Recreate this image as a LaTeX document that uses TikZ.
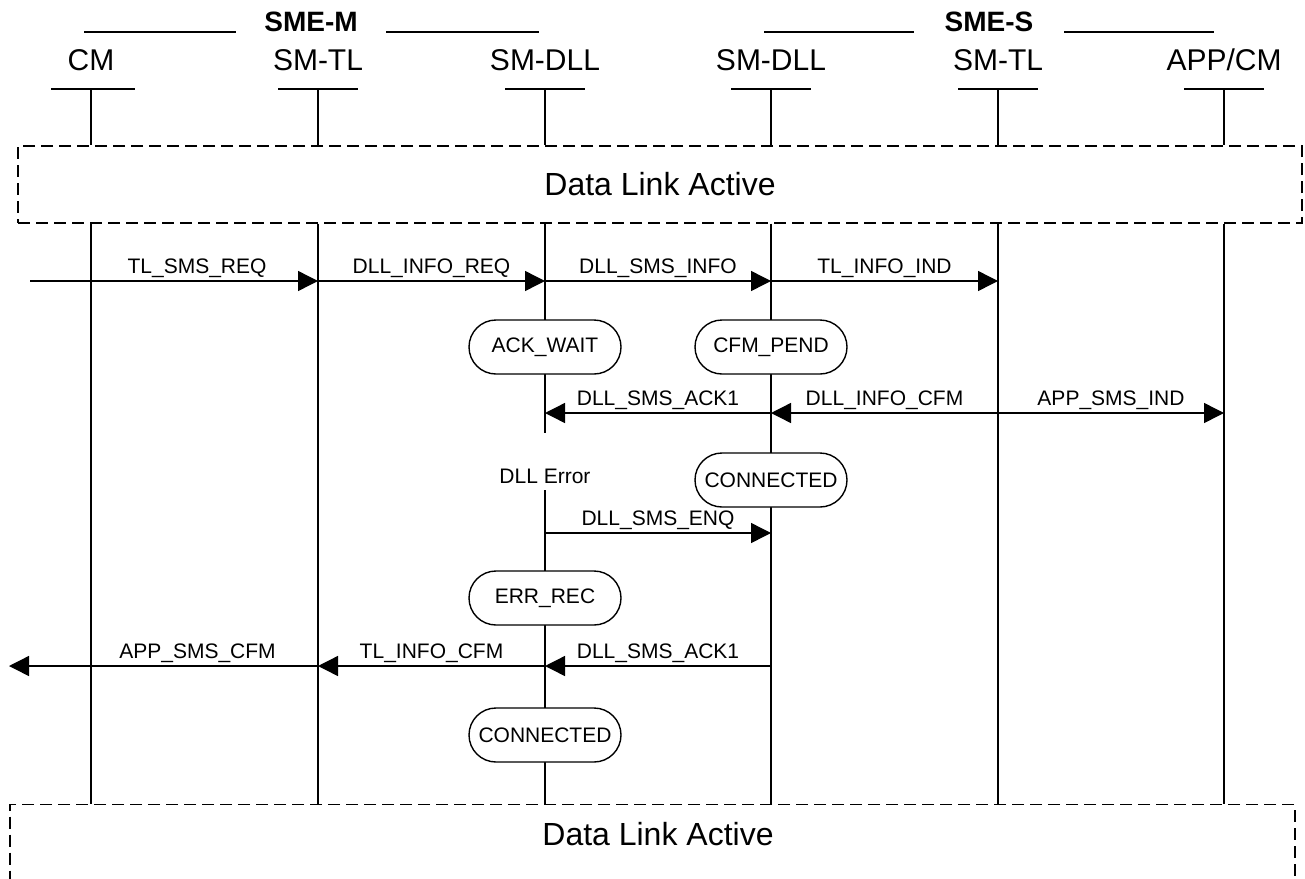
\documentclass[tikz,border=0pt]{standalone}
\usepackage{fontspec}
\setmainfont{Liberation Sans}
\usetikzlibrary{arrows.meta, calc, positioning}

\begin{document}
\begin{tikzpicture}[x=0.5pt, y=-0.5pt, line width=0.7pt,
  head/.style={font=\fontsize{15}{18}\selectfont},
  group/.style={font=\fontsize{14}{17}\selectfont\bfseries},
  region/.style={draw, dash pattern=on 6pt off 3pt, font=\fontsize{16}{19}\selectfont},
  state/.style={draw, rectangle, rounded corners=13.5pt, fill=white, minimum width=76pt, minimum height=27pt, inner xsep=0pt, font=\fontsize{10.5}{12}\selectfont},
  lbl/.style={font=\fontsize{10.5}{12}\selectfont, inner sep=1.5pt},
  msg/.style={-{Triangle[length=10pt, width=10pt]}}]
\useasboundingbox (0,0) rectangle (1305,878);

% group titles
\node[group] (smem) at (311,22) {SME-M};
\node[group] (smes) at (989,22) {SME-S};
\draw (84,32) -- (236,32);  \draw (386,32) -- (539,32);
\draw (764,32) -- (914,32); \draw (1064,32) -- (1214,32);

% entities
\node[head] (cm) at (91,60) {CM};
\node[head] (tlm) at (318,60) {SM-TL};
\node[head] (dllm) at (545,60) {SM-DLL};
\node[head] (dlls) at (771,60) {SM-DLL};
\node[head] (tls) at (998,60) {SM-TL};
\node[head] (app) at (1224,60) {APP/CM};
\coordinate (tk) at (0,89);

% data link regions
\node[region, minimum width=642pt, minimum height=38.5pt] (top) at (660,184.5) {Data Link Active};
\node[region, minimum width=642.5pt, minimum height=50pt, anchor=north] (bot) at (652.5,804) {};
\node[region, draw=none] (botlbl) at (658,834) {Data Link Active};

% ticks
\draw ($(cm |- tk)+(-40,0)$) -- ($(cm |- tk)+(44,0)$);   \draw (cm |- tk) -- (cm |- top.north);
\draw ($(tlm |- tk)+(-40,0)$) -- ($(tlm |- tk)+(40,0)$); \draw (tlm |- tk) -- (tlm |- top.north);
\draw ($(dllm |- tk)+(-40,0)$) -- ($(dllm |- tk)+(40,0)$); \draw (dllm |- tk) -- (dllm |- top.north);
\draw ($(dlls |- tk)+(-40,0)$) -- ($(dlls |- tk)+(40,0)$); \draw (dlls |- tk) -- (dlls |- top.north);
\draw ($(tls |- tk)+(-40,0)$) -- ($(tls |- tk)+(40,0)$); \draw (tls |- tk) -- (tls |- top.north);
\draw ($(app |- tk)+(-40,0)$) -- ($(app |- tk)+(40,0)$); \draw (app |- tk) -- (app |- top.north);

% lifelines
\draw (cm |- top.south) -- (cm |- bot.north);
\draw (tlm |- top.south) -- (tlm |- bot.north);
\draw (dllm |- top.south) -- (dllm |- bot.north);
\draw (dlls |- top.south) -- (dlls |- bot.north);
\draw (tls |- top.south) -- (tls |- bot.north);
\draw (app |- top.south) -- (app |- bot.north);

% message rows
\coordinate (r1) at (0,281);
\coordinate (r2) at (0,413);
\coordinate (r3) at (0,533);
\coordinate (r4) at (0,666);
\coordinate (inM) at (30,281);
\coordinate (outM) at (9,666);

\draw[msg] (inM) -- (tlm |- r1) node[lbl, above, pos=0.58] {TL\_SMS\_REQ};
\draw[msg] (tlm |- r1) -- (dllm |- r1) node[lbl, above, midway] {DLL\_INFO\_REQ};
\draw[msg] (dllm |- r1) -- (dlls |- r1) node[lbl, above, midway] {DLL\_SMS\_INFO};
\draw[msg] (dlls |- r1) -- (tls |- r1) node[lbl, above, midway] {TL\_INFO\_IND};

\node[state] (ackwait) at (545,347) {ACK\_WAIT};
\node[state] (cfmpend) at (771,347) {CFM\_PEND};

\draw[msg] (dlls |- r2) -- (dllm |- r2) node[lbl, above, midway] {DLL\_SMS\_ACK1};
\draw[msg] (tls |- r2) -- (dlls |- r2) node[lbl, above, midway] {DLL\_INFO\_CFM};
\draw[msg] (tls |- r2) -- (app |- r2) node[lbl, above, midway] {APP\_SMS\_IND};

\node[lbl, fill=white, text height=23.5pt, text depth=2pt, anchor=base] (dllerr) at (545,483) {DLL Error};
\node[state] (conns) at (771,480) {CONNECTED};

\draw[msg] (dllm |- r3) -- (dlls |- r3) node[lbl, above, midway] {DLL\_SMS\_ENQ};

\node[state] (errrec) at (545,598) {ERR\_REC};

\draw[msg] (tlm |- r4) -- (outM) node[lbl, above, pos=0.39] {APP\_SMS\_CFM};
\draw[msg] (dllm |- r4) -- (tlm |- r4) node[lbl, above, midway] {TL\_INFO\_CFM};
\draw[msg] (dlls |- r4) -- (dllm |- r4) node[lbl, above, midway] {DLL\_SMS\_ACK1};

\node[state] (connm) at (545,735) {CONNECTED};
\end{tikzpicture}
\end{document}
